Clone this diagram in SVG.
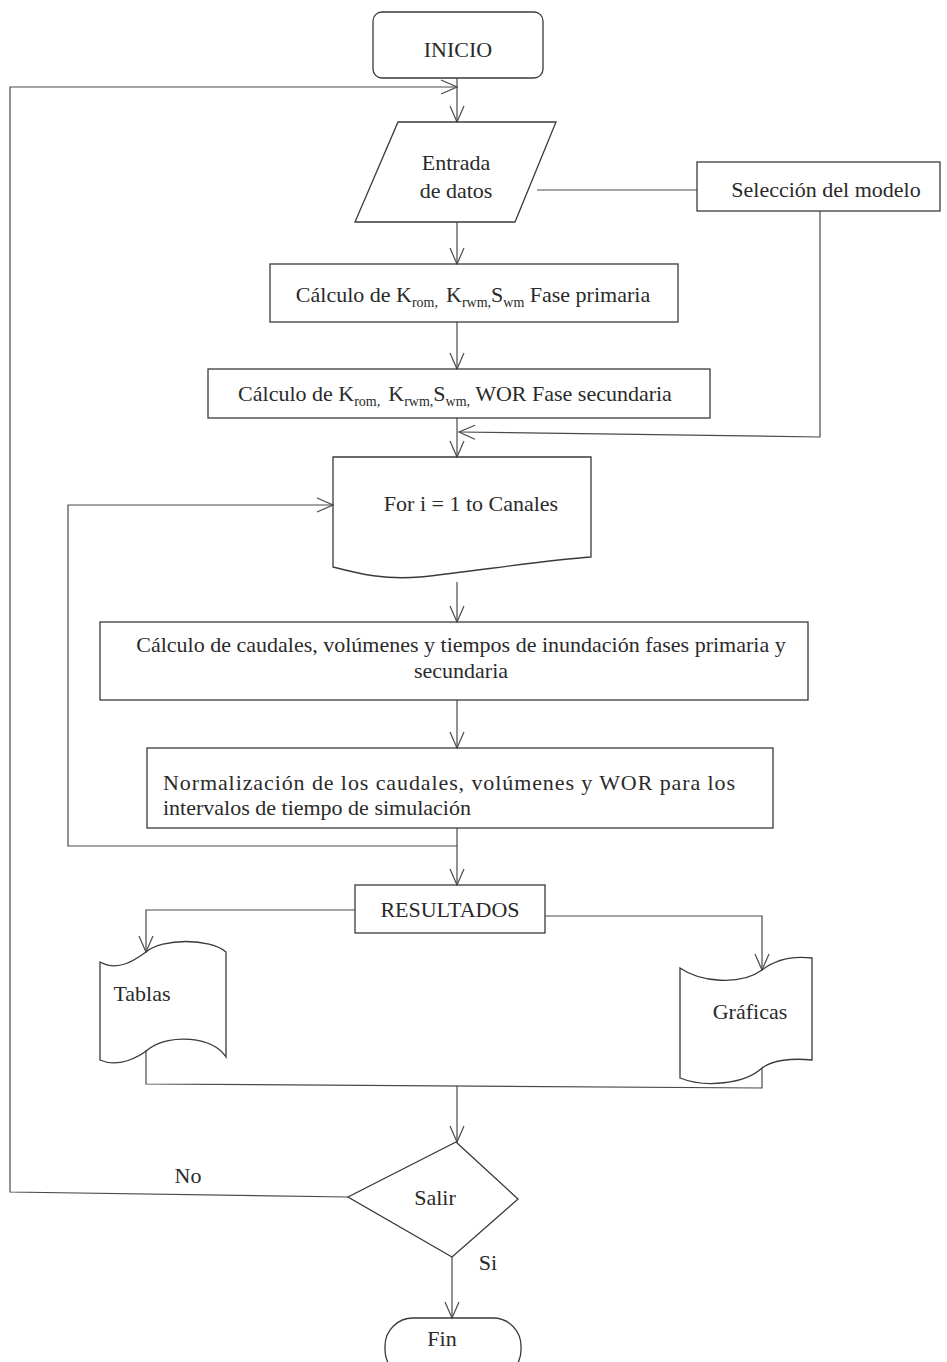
<svg xmlns="http://www.w3.org/2000/svg" width="947" height="1362" viewBox="0 0 947 1362">
  <defs>
    <style>
      .shape { fill: none; stroke: #3a3a3a; stroke-width: 1.3; }
      .conn { fill: none; stroke: #4a4a4a; stroke-width: 1.2; }
      .lbl { font-family: "Liberation Serif", "Times New Roman", serif; font-size: 22px; fill: #2a2a2a; }
      .mid { text-anchor: middle; }
      .sub { font-size: 14px; }
    </style>
    <marker id="arr" viewBox="0 0 18 16" refX="17" refY="8" markerWidth="18" markerHeight="16" markerUnits="userSpaceOnUse" orient="auto">
      <path d="M1,1 L17,8 L1,15" fill="none" stroke="#4a4a4a" stroke-width="1.2"/>
    </marker>
  </defs>

  <rect width="947" height="1362" fill="#ffffff"/>

  <!-- connectors -->
  <g id="connectors">
    <path class="conn" d="M457,78 V122" marker-end="url(#arr)"/>
    <path class="conn" d="M348,1197 L10,1192 V87 H457" marker-end="url(#arr)"/>
    <path class="conn" d="M537,190 H697"/>
    <path class="conn" d="M457,222 V264" marker-end="url(#arr)"/>
    <path class="conn" d="M820,211 V437 L459,432" marker-end="url(#arr)"/>
    <path class="conn" d="M457,322 V369" marker-end="url(#arr)"/>
    <path class="conn" d="M457,418 V457" marker-end="url(#arr)"/>
    <path class="conn" d="M457,846 H68 V505 H333" marker-end="url(#arr)"/>
    <path class="conn" d="M457,582 V622" marker-end="url(#arr)"/>
    <path class="conn" d="M457,700 V748" marker-end="url(#arr)"/>
    <path class="conn" d="M457,828 V885" marker-end="url(#arr)"/>
    <path class="conn" d="M355,910 H146 V952" marker-end="url(#arr)"/>
    <path class="conn" d="M545,916 H762 V970" marker-end="url(#arr)"/>
    <path class="conn" d="M146,1050 V1084 L762,1088 V1068"/>
    <path class="conn" d="M457,1086 V1142" marker-end="url(#arr)"/>
    <path class="conn" d="M452,1257 V1318" marker-end="url(#arr)"/>
  </g>

  <!-- start terminal -->
  <g id="inicio">
    <rect class="shape" x="373" y="12" width="170" height="66" rx="9"/>
    <text class="lbl mid" x="458" y="57">INICIO</text>
  </g>

  <!-- data input -->
  <g id="entrada">
    <polygon class="shape" points="398,122 556,122 515,222 355,222"/>
    <text class="lbl mid" x="456" y="170">Entrada</text>
    <text class="lbl mid" x="456" y="198">de datos</text>
  </g>

  <g id="seleccion">
    <rect class="shape" x="697" y="162" width="243" height="49"/>
    <text class="lbl mid" x="826" y="197">Selección del modelo</text>
  </g>

  <g id="fase-primaria">
    <rect class="shape" x="270" y="264" width="408" height="58"/>
    <text class="lbl mid" x="473" y="302">Cálculo de K<tspan class="sub" dy="5">rom,</tspan><tspan dy="-5" dx="8">K</tspan><tspan class="sub" dy="5">rwm,</tspan><tspan dy="-5">S</tspan><tspan class="sub" dy="5">wm</tspan><tspan dy="-5"> Fase primaria</tspan></text>
  </g>

  <g id="fase-secundaria">
    <rect class="shape" x="208" y="369" width="502" height="49"/>
    <text class="lbl mid" x="455" y="401">Cálculo de K<tspan class="sub" dy="5">rom,</tspan><tspan dy="-5" dx="8">K</tspan><tspan class="sub" dy="5">rwm,</tspan><tspan dy="-5">S</tspan><tspan class="sub" dy="5">wm,</tspan><tspan dy="-5"> WOR Fase secundaria</tspan></text>
  </g>

  <!-- loop limit over the channels -->
  <g id="for-canales">
    <path class="shape" d="M333,457 H591 V557 C545,560 470,572 420,577 C385,580 360,574 333,567 Z"/>
    <text class="lbl mid" x="471" y="511">For i = 1 to Canales</text>
  </g>

  <g id="caudales">
    <rect class="shape" x="100" y="622" width="708" height="78"/>
    <text class="lbl mid" x="461" y="652">Cálculo de caudales, volúmenes y tiempos de inundación fases primaria y</text>
    <text class="lbl mid" x="461" y="678">secundaria</text>
  </g>

  <g id="normalizacion">
    <rect class="shape" x="147" y="748" width="626" height="80"/>
    <text class="lbl" x="163" y="790" textLength="572" lengthAdjust="spacing">Normalización de los caudales, volúmenes y WOR para los</text>
    <text class="lbl" x="163" y="815">intervalos de tiempo de simulación</text>
  </g>

  <g id="resultados">
    <rect class="shape" x="355" y="885" width="190" height="48"/>
    <text class="lbl mid" x="450" y="917">RESULTADOS</text>
  </g>

  <!-- output documents -->
  <g id="tablas">
    <path class="shape" d="M100,962 C118,972 135,960 146,952 C162,938 210,938 226,952 V1057 C212,1036 170,1034 150,1048 C138,1058 118,1068 100,1060 Z"/>
    <text class="lbl mid" x="142" y="1001">Tablas</text>
  </g>

  <g id="graficas">
    <path class="shape" d="M680,968 C700,982 740,986 762,970 C776,959 795,956 812,958 V1060 C792,1058 772,1060 762,1068 C745,1084 705,1088 680,1078 Z"/>
    <text class="lbl mid" x="750" y="1019">Gráficas</text>
  </g>

  <!-- decision -->
  <g id="salir">
    <polygon class="shape" points="456,1142 518,1199 452,1257 348,1197"/>
    <text class="lbl mid" x="435" y="1205">Salir</text>
  </g>

  <g id="labels">
    <text class="lbl mid" x="188" y="1183">No</text>
    <text class="lbl mid" x="488" y="1270">Si</text>
  </g>

  <!-- end terminal -->
  <g id="fin">
    <rect class="shape" x="385" y="1318" width="136" height="60" rx="28"/>
    <text class="lbl mid" x="442" y="1346">Fin</text>
  </g>
</svg>
